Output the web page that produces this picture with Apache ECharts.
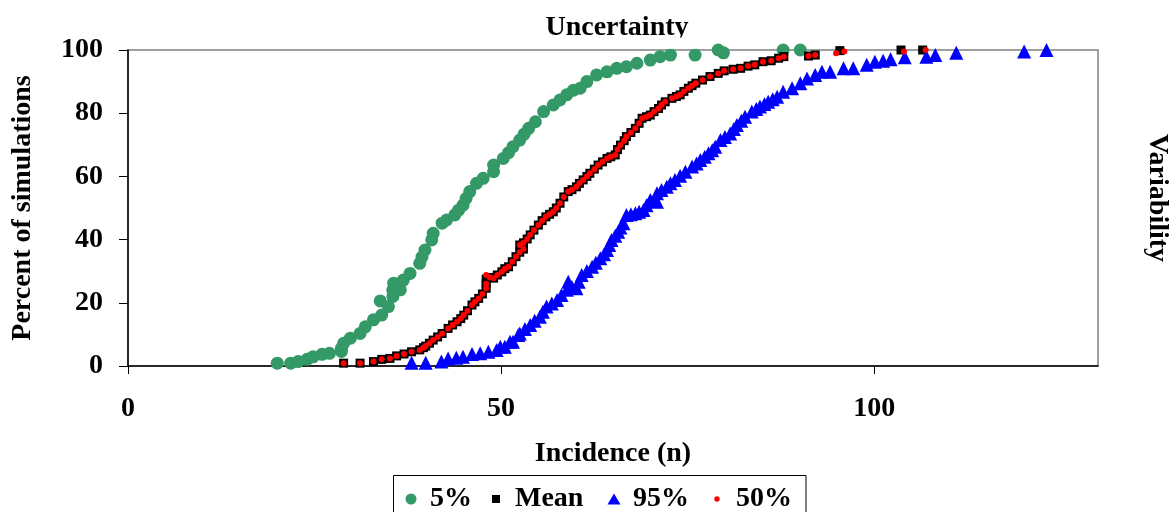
<!DOCTYPE html>
<html><head><meta charset="utf-8">
<script src="https://cdn.jsdelivr.net/npm/echarts@6/dist/echarts.min.js"></script>
<style>html,body{margin:0;padding:0;background:#fff}#c{width:1171px;height:512px}</style>
</head><body><div id="c"></div>
<script>
const seriesNames = ['5%', 'Mean', '95%', '50%'];
const xTicks = [0, 50, 100];
const yTicks = [0, 20, 40, 60, 80, 100];

// [incidence, percent of simulations]
const p5Points = [
 [20.0,0.9],[21.8,0.9],[22.8,1.4],[24.0,2.1],[24.8,2.9],[26.0,3.7],[27.0,4.0],[28.6,4.6],[28.6,5.6],[28.9,7.2],
 [29.8,8.8],[31.1,10.3],[31.8,12.4],[32.9,14.6],[34.0,16.1],[34.9,18.8],[33.8,20.6],[35.5,22.0],[35.5,24.0],[35.6,26.2],
 [36.5,24.1],[36.9,27.2],[37.8,29.3],[39.1,32.5],[39.4,34.5],[39.8,36.7],[40.7,39.9],[40.9,42.0],[42.1,45.2],[42.7,46.2],
 [43.8,47.8],[44.3,49.3],[44.9,50.9],[45.3,53.0],[45.8,55.2],[46.7,57.8],[47.6,59.4],[49.0,61.5],[49.0,63.6],[50.3,65.7],
 [51.0,67.5],[51.6,69.4],[52.5,71.5],[53.1,73.4],[53.7,75.2],[54.6,77.3],[55.7,80.5],[57.0,82.6],[57.9,84.2],[58.8,85.8],
 [59.7,87.3],[60.6,87.9],[61.5,90.0],[62.8,92.1],[64.2,93.1],[65.5,94.2],[66.8,94.7],[68.2,95.8],[70.0,96.8],[71.3,97.9],
 [72.7,98.4],[76.0,98.4],[79.1,100],[79.8,99.1],[87.8,100],[90.1,100]
];
const meanPoints = [
 [28.9,0.9],[31.1,0.9],[32.9,1.4],[34.0,2.1],[35.1,2.4],[36.0,3.2],[37.0,3.8],[38.0,4.5],[39.1,5.1],[39.6,5.8],
 [39.9,6.3],[40.4,7.2],[40.9,8.2],[41.5,9.2],[42.1,10.3],[42.9,11.9],[43.5,13.0],[44.1,14.0],[44.6,15.0],[45.0,16.1],
 [45.5,17.5],[46.1,19.3],[46.5,20.3],[47.0,21.4],[47.5,22.8],[48.0,24.6],[48.0,26.0],[48.0,27.5],[48.5,28.0],[49.0,27.8],
 [49.5,28.8],[50.1,29.8],[50.5,30.8],[51.0,31.4],[51.5,33.0],[52.0,34.6],[52.5,36.0],[52.5,38.3],[53.0,37.0],[53.0,39.0],
 [53.5,40.2],[53.9,41.5],[54.4,43.0],[55.0,44.6],[55.5,46.0],[56.0,47.2],[56.5,48.0],[57.0,48.8],[57.4,50.0],[57.9,51.5],
 [58.4,53.5],[59.0,55.2],[59.5,55.8],[60.1,56.7],[60.5,57.8],[61.0,58.9],[61.5,60.0],[61.9,61.0],[62.5,62.3],[63.0,63.6],
 [63.6,64.6],[64.2,65.7],[64.7,66.2],[65.3,66.8],[65.6,68.5],[66.0,69.9],[66.5,71.3],[66.8,72.6],[67.4,73.9],[68.0,75.2],
 [68.5,76.8],[68.9,78.4],[69.5,78.9],[70.0,79.4],[70.5,80.5],[71.1,81.5],[71.5,82.6],[72.0,83.6],[72.9,84.7],[73.5,85.3],
 [74.0,85.8],[74.5,86.9],[75.1,87.9],[75.6,88.7],[76.1,89.5],[77.0,90.5],[78.0,91.6],[79.1,92.6],[79.9,93.4],[81.1,93.9],
 [82.1,94.2],[83.1,94.9],[84.0,95.3],[85.1,96.3],[86.2,96.6],[87.2,97.4],[87.9,97.9],[91.2,98.1],[92.1,98.4],[95.4,99.8],
 [103.6,100],[106.5,100]
];
const p95Points = [
 [38.0,1.0],[39.9,1.0],[42.0,1.4],[42.9,2.4],[44.0,2.6],[44.9,2.9],[46.1,3.8],[47.2,4.0],[48.3,4.5],[49.4,5.1],
 [49.9,6.1],[50.5,6.1],[51.2,7.7],[51.6,7.7],[52.3,9.8],[52.5,10.3],[53.2,11.7],[53.9,13.0],[54.5,14.3],[55.2,15.6],
 [55.6,17.2],[56.1,18.8],[56.8,19.8],[57.5,20.9],[58.1,22.5],[58.8,24.1],[59.0,26.7],[59.5,25.0],[60.1,24.6],[60.4,26.7],
 [60.8,28.8],[61.5,30.1],[62.2,31.4],[62.7,32.7],[63.3,34.1],[63.8,35.4],[64.2,36.7],[64.5,38.3],[64.8,39.9],[65.3,41.2],
 [65.7,42.5],[66.0,43.8],[66.4,45.2],[66.8,47.8],[67.4,48.0],[68.0,48.3],[68.5,48.8],[69.1,49.4],[69.5,50.9],[70.0,52.5],
 [70.9,52.0],[70.9,54.7],[71.5,55.7],[72.2,56.7],[72.7,57.8],[73.3,58.9],[74.0,60.2],[74.7,61.5],[75.6,63.1],[76.2,64.1],
 [76.7,65.2],[77.3,66.2],[77.8,67.3],[78.3,68.3],[78.7,69.4],[79.4,71.5],[80.0,72.5],[80.7,73.6],[81.2,75.0],[81.6,76.3],
 [82.2,77.6],[82.7,78.9],[83.6,80.5],[84.2,81.3],[84.7,82.1],[85.3,82.9],[85.8,83.6],[86.4,84.4],[87.0,85.2],[87.8,86.8],
 [89.0,87.9],[90.1,89.5],[91.0,91.0],[92.1,92.1],[93.0,93.1],[94.1,93.1],[95.9,94.2],[97.2,94.2],[99.0,95.3],[100.1,96.3],
 [101.2,96.6],[102.2,97.1],[104.1,97.7],[107.0,97.9],[108.2,98.4],[111.0,99.1],[120.1,99.5],[123.1,100]
];
const p50Points = [
 [28.9,0.9],[31.1,0.9],[32.9,1.4],[34.0,2.1],[35.1,2.4],[36.0,3.2],[37.0,3.8],[38.0,4.5],[39.1,5.1],[39.6,5.8],
 [39.9,6.3],[40.4,7.2],[40.9,8.2],[41.5,9.2],[42.1,10.3],[42.9,11.9],[43.5,13.0],[44.1,14.0],[44.6,15.0],[45.0,16.1],
 [45.5,17.5],[46.1,19.3],[46.5,20.3],[47.0,21.4],[47.5,22.8],[48.0,24.6],[48.0,26.0],[48.0,28.8],[48.5,28.0],[49.0,27.8],
 [49.5,28.8],[50.1,29.8],[50.5,30.8],[51.0,31.4],[51.5,33.0],[52.0,34.6],[52.5,36.0],[52.5,38.3],[53.0,37.0],[53.0,39.0],
 [53.5,40.2],[53.9,41.5],[54.4,43.0],[55.0,44.6],[55.5,46.0],[56.0,47.2],[56.5,48.0],[57.0,48.8],[57.4,50.0],[57.9,51.5],
 [58.4,53.5],[59.0,55.2],[59.5,55.8],[60.1,56.7],[60.5,57.8],[61.0,58.9],[61.5,60.0],[61.9,61.0],[62.5,62.3],[63.0,63.6],
 [63.6,64.6],[64.2,65.7],[64.7,66.2],[65.3,66.8],[65.6,68.5],[66.0,69.9],[66.5,71.3],[66.8,72.6],[67.4,73.9],[68.0,75.2],
 [68.5,76.8],[68.9,78.4],[69.5,78.9],[70.0,79.4],[70.5,80.5],[71.1,81.5],[71.5,82.6],[72.0,83.6],[72.9,84.7],[73.5,85.3],
 [74.0,85.8],[74.5,86.9],[75.1,87.9],[75.6,88.7],[76.1,89.5],[77.0,90.5],[78.0,91.6],[79.1,92.6],[79.9,93.4],[81.1,93.9],
 [82.1,94.2],[83.1,94.9],[84.0,95.3],[85.1,96.3],[86.2,96.6],[87.2,97.4],[87.9,97.9],[91.2,98.1],[92.1,98.4],[94.9,99.0],
 [96.0,99.5],[104.0,99.5],[106.9,100]
];

const FONT = "'Liberation Serif','Times New Roman',serif";
const FS = 28;
const txt = { fontFamily: FONT, fontWeight: 'bold', fontSize: FS, color: '#000' };
const legendIcons = [
  'path://M0,0M20,20M4.5,10a5.5,5.5 0 1,0 11,0a5.5,5.5 0 1,0 -11,0Z',
  'path://M0,0M20,20M6,6L14,6L14,14L6,14Z',
  'path://M0,0M20,20M10,4.5L16.5,15.5L3.5,15.5Z',
  'path://M0,0M20,20M7.3,10a2.7,2.7 0 1,0 5.4,0a2.7,2.7 0 1,0 -5.4,0Z'
];
const legendIconCenters = [411, 496, 614, 717];

const legends = seriesNames.map((name, i) => ({
  left: legendIconCenters[i] - 10, top: 485, orient: 'horizontal',
  itemWidth: 20, itemHeight: 20, padding: 0,
  textStyle: Object.assign({ padding: [0, 0, 0, 4] }, txt),
  data: [{ name: name, icon: legendIcons[i] }]
}));

const chart = echarts.init(document.getElementById('c'), null, { renderer: 'canvas' });
const option = {
  animation: false,
  backgroundColor: '#fff',
  grid: { left: 128, right: 73, top: 50, bottom: 146, show: true, borderColor: '#808080', borderWidth: 1.5, containLabel: false, outerBoundsMode: 'none' },
  xAxis: {
    type: 'value', min: 0, max: 130, interval: 50,
    axisLine: { show: true, onZero: false, lineStyle: { color: '#000', width: 1.5 } },
    axisTick: { show: true, customValues: xTicks, length: 8, lineStyle: { color: '#000', width: 1 } },
    axisLabel: Object.assign({ customValues: xTicks, margin: 29 }, txt),
    splitLine: { show: false },
    name: 'Incidence (n)', nameLocation: 'middle', nameGap: 74, nameTextStyle: txt
  },
  yAxis: {
    type: 'value', min: 0, max: 100, interval: 20,
    axisLine: { show: true, onZero: false, lineStyle: { color: '#000', width: 1.5 } },
    axisTick: { show: true, customValues: yTicks, length: 9, lineStyle: { color: '#000', width: 1 } },
    axisLabel: Object.assign({ customValues: yTicks, margin: 25 }, txt),
    splitLine: { show: false },
    name: 'Percent of simulations', nameLocation: 'middle', nameGap: 91, nameRotate: 90, nameTextStyle: txt
  },
  legend: legends,
  graphic: [
    { type: 'text', x: 617, y: 28, z: 10, style: { text: 'Uncertainty', align: 'center', verticalAlign: 'middle', fill: '#000', font: "bold " + FS + "px 'Liberation Serif','Times New Roman',serif" } },
    { type: 'rect', z: 11, shape: { x: 540, y: 37.5, width: 160, height: 11.3 }, style: { fill: '#fff' } },
    { type: 'text', x: 1157, y: 198, rotation: -Math.PI / 2, z: 10, style: { text: 'Variability', align: 'center', verticalAlign: 'middle', fill: '#000', font: "bold " + FS + "px 'Liberation Serif','Times New Roman',serif" } },
    { type: 'rect', z: 1, shape: { x: 393.5, y: 475.5, width: 412.5, height: 60 }, style: { fill: 'none', stroke: '#000', lineWidth: 1 } }
  ],
  series: [
    { name: seriesNames[0], type: 'scatter', data: p5Points, symbol: 'circle', symbolSize: 13, itemStyle: { color: '#339966', opacity: 1 }, z: 2 },
    { name: seriesNames[1], type: 'scatter', data: meanPoints, symbol: 'rect', symbolSize: 9, itemStyle: { color: '#000000', opacity: 1 }, z: 3 },
    { name: seriesNames[2], type: 'scatter', data: p95Points, symbol: 'triangle', symbolSize: 14, itemStyle: { color: '#0000ff', opacity: 1 }, z: 4 },
    { name: seriesNames[3], type: 'scatter', data: p50Points, symbol: 'circle', symbolSize: 6, itemStyle: { color: '#ff0000', opacity: 1 }, z: 5 }
  ]
};
chart.setOption(option);
</script>
</body></html>
